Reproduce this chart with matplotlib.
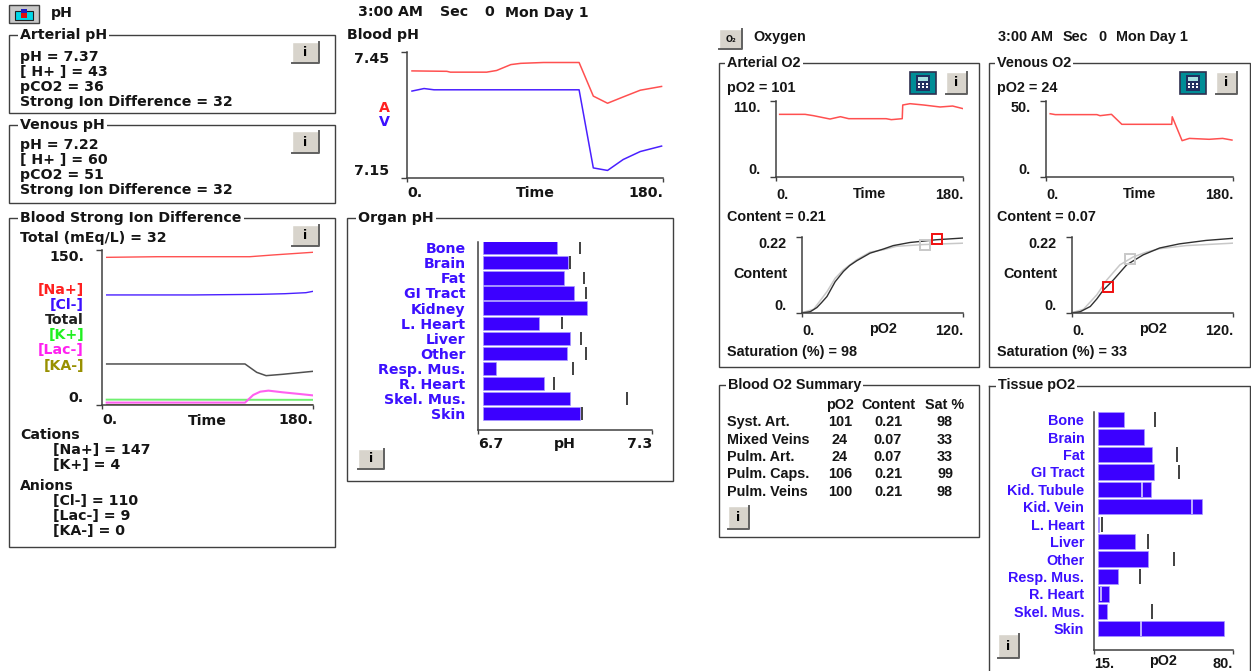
import numpy as np
import matplotlib
matplotlib.use("Agg")
import matplotlib.pyplot as plt
from matplotlib.patches import Rectangle

# ==========================================
# DATA READ FROM THE SCREEN
# ==========================================
ph_art_t = [3.5, 28, 30.5, 56, 63, 73, 80, 96, 121, 131, 141, 152, 164, 179]
ph_art = [7.405, 7.404, 7.402, 7.402, 7.406, 7.42, 7.423, 7.425, 7.425, 7.345, 7.328, 7.343, 7.359, 7.368]
ph_ven_t = [3.5, 12, 19, 121, 131, 141, 152, 164, 179]
ph_ven = [7.357, 7.363, 7.36, 7.36, 7.174, 7.168, 7.194, 7.213, 7.226]

na_t = [4, 47, 126, 146, 180]
na = [142.9, 143.5, 143.5, 145.2, 147.8]
cl_t = [4, 78, 135, 156, 174, 180]
cl = [106.5, 106.5, 107.1, 107.7, 108.7, 110]
total_t = [4, 122, 132, 140, 154, 180]
total = [39.7, 39.7, 31.6, 28.4, 29.7, 32.6]
k_t = [4, 180]
k = [5.2, 5.0]
lac_t = [4, 122, 129, 135, 142, 154, 169, 180]
lac = [2.3, 2.3, 9.7, 12.9, 13.9, 12.3, 10.6, 9.3]
ka_t = [4, 180]
ka = [0.4, 0.4]

organs = ["Bone", "Brain", "Fat", "GI Tract", "Kidney", "L. Heart", "Liver", "Other",
          "Resp. Mus.", "R. Heart", "Skel. Mus.", "Skin"]
organ_ph = [6.974, 7.011, 6.998, 7.03, 7.077, 6.912, 7.016, 7.006, 6.763, 6.926, 7.016, 7.053]
organ_ph_mark = [7.05, 7.018, 7.064, 7.073, np.nan, 6.989, 7.055, 7.073, 7.026, 6.961, 7.214, 7.06]

art_o2_t = [3.5, 28, 36, 52, 62, 70, 106, 111, 121.5, 122, 129, 142, 158, 170, 180]
art_o2 = [90.6, 90.6, 88.7, 83.8, 87.2, 84.3, 84.3, 82.9, 84.3, 104.2, 106.1, 104.2, 101.3, 102.7, 98.9]
ven_o2_t = [4, 9, 49, 52, 63, 73, 121, 121.5, 131, 138, 157, 170, 179]
ven_o2 = [41.6, 41, 41, 40.3, 41.2, 34.6, 34.6, 39.6, 23.8, 25.3, 24.7, 25.3, 24.2]

art_curve_p = [0, 3, 6.2, 11.1, 14.5, 18.6, 24.7, 30.9, 35.5, 40.8, 50.7, 60.6, 68, 80.4, 100, 120]
art_curve_c = [0, .001, .003, .015, .029, .047, .09, .12, .137, .151, .173, .185, .195, .204, .212, .217]
art_ref_p = [0, 8.7, 18.6, 24.7, 30.9, 40.8, 50.7, 60.6, 70.5, 90.3, 120]
art_ref_c = [0, .01, .061, .10, .125, .154, .176, .183, .193, .198, .202]
ven_curve_p = [0, 3, 6.2, 13.6, 18.5, 23.4, 30.8, 40.7, 53, 65.3, 80, 99.8, 119.5]
ven_curve_c = [0, .001, .003, .018, .04, .066, .095, .139, .168, .188, .2, .21, .216]
ven_ref_p = [0, 8.6, 18.5, 25.9, 35.7, 45.6, 55.4, 65.3, 85, 119.5]
ven_ref_c = [0, .01, .052, .095, .139, .162, .176, .186, .195, .202]
art_now = (100.7, 0.215)
art_ref_pt = (91.5, 0.197)
ven_now = (26.6, 0.075)
ven_ref_pt = (43.6, 0.156)

summary_rows = ["Syst. Art.", "Mixed Veins", "Pulm. Art.", "Pulm. Caps.", "Pulm. Veins"]
summary_po2 = ["101", "24", "24", "106", "100"]
summary_content = ["0.21", "0.07", "0.07", "0.21", "0.21"]
summary_sat = ["98", "33", "33", "99", "98"]

tissues = ["Bone", "Brain", "Fat", "GI Tract", "Kid. Tubule", "Kid. Vein", "L. Heart", "Liver", "Other",
           "Resp. Mus.", "R. Heart", "Skel. Mus.", "Skin"]
tissue_po2 = [29.0, 38.2, 42.2, 43.1, 41.6, 65.5, 17.5, 34.1, 40.2, 26.0, 21.8, 20.9, 75.8]
tissue_mark = [43.5, np.nan, 54.0, 54.7, 37.5, 60.6, 18.6, 40.3, 52.6, 36.3, 18.4, 41.9, 37.2]

clock_parts = ["3:00 AM", "Sec", "0", "Mon Day 1"]

# ==========================================
# STYLE
# ==========================================
W, H = 1251, 671
WIDE = "DejaVu Sans"
NARROW = "Liberation Sans"
WIDE_SIZE = 10.2
NARROW_SIZE = 10.4
RED = "#ff5050"
BLUE = "#4a20ff"
BAR = "#3c00ff"
LINK = "#3c10ff"
INK = "#151515"
FRAME = "#404040"

fig = plt.figure(figsize=(W / 100, H / 100), dpi=100, facecolor="white")
bg = fig.add_axes([0, 0, 1, 1])
bg.set_xlim(0, W)
bg.set_ylim(H, 0)
bg.axis("off")


def put(x, y, s, font=WIDE, size=None, color=INK, ha="left", **kw):
    if size is None:
        size = WIDE_SIZE if font == WIDE else NARROW_SIZE
    return bg.text(x, y, s, family=font, fontsize=size, fontweight="bold", color=color,
                   ha=ha, va="center", **kw)


def frame(x0, y0, x1, y1, title, tx, font=WIDE):
    bg.add_patch(Rectangle((x0, y0), x1 - x0, y1 - y0, fc="none", ec=FRAME, lw=1.0))
    put(tx, y0, title, font=font, zorder=5,
        bbox=dict(fc="white", ec="none", pad=1.5))


def button(x0, y0, x1, y1, label="i"):
    bg.add_patch(Rectangle((x0, y0), x1 - x0, y1 - y0, fc="#d8d4cc", ec="none"))
    bg.plot([x0, x0, x1], [y1, y0, y0], color="white", lw=1)
    bg.plot([x0, x1, x1], [y1, y1, y0], color="#606060", lw=1.4)
    if label:
        put((x0 + x1) / 2, (y0 + y1) / 2, label, font=WIDE, size=9, color="black", ha="center")


def calc_icon(x0, y0):
    bg.add_patch(Rectangle((x0, y0), 26, 22, fc="#008c96", ec="#303050", lw=1.2))
    bg.add_patch(Rectangle((x0 + 6, y0 + 3), 14, 16, fc="#203060", ec="none"))
    bg.add_patch(Rectangle((x0 + 8, y0 + 5), 10, 4, fc="#a8e0e0", ec="none"))
    for row in range(2):
        for col in range(3):
            bg.add_patch(Rectangle((x0 + 8 + col * 4, y0 + 11 + row * 3), 2, 2, fc="white", ec="none"))


def chart(x0, y0, x1, y1, xr, yr, xt, yt, xlabel, xlabel_y, font=WIDE, ypad=9, xpad=3):
    ax = fig.add_axes([x0 / W, 1 - y1 / H, (x1 - x0) / W, (y1 - y0) / H])
    ax.set_xlim(*xr)
    ax.set_ylim(*yr)
    ax.patch.set_alpha(0)
    for side in ["top", "right"]:
        ax.spines[side].set_visible(False)
    for side in ["left", "bottom"]:
        ax.spines[side].set_color(FRAME)
        ax.spines[side].set_linewidth(1.1)
    size = WIDE_SIZE if font == WIDE else NARROW_SIZE
    ax.set_xticks(xr)
    ax.set_xticklabels(xt, family=font, fontsize=size, fontweight="bold", color=INK)
    ax.get_xticklabels()[0].set_ha("left")
    ax.get_xticklabels()[1].set_ha("right")
    ax.tick_params(axis="x", length=3, width=1, color=FRAME, pad=xpad)
    if yt is not None:
        ax.set_yticks(yr)
        ax.set_yticklabels(yt, family=font, fontsize=size, fontweight="bold", color=INK)
        ax.get_yticklabels()[0].set_va("bottom")
        ax.get_yticklabels()[1].set_va("top")
        ax.tick_params(axis="y", length=4, width=1, color=FRAME, pad=ypad)
    ax.set_xlabel(xlabel, family=font, fontsize=size, fontweight="bold", color=INK, va="center")
    ax.xaxis.set_label_coords(0.5, -(xlabel_y - y1) / (y1 - y0))
    return ax


def bar_chart(ax, names, vals, marks, base, bar_h, font, pad):
    pos = np.arange(len(names))
    ax.barh(pos, np.array(vals) - base, left=base, height=bar_h, color=BAR,
            edgecolor="#a898ff", linewidth=0.5)
    for i, (v, m) in enumerate(zip(vals, marks)):
        if np.isnan(m):
            continue
        ax.vlines(m, i - 0.42, i + 0.42, color="#d8d0ff" if m < v else "#202020", lw=1.2, zorder=4)
    size = WIDE_SIZE if font == WIDE else NARROW_SIZE
    ax.set_yticks(pos)
    ax.set_yticklabels(names, family=font, fontsize=size, fontweight="bold", color=LINK)
    ax.tick_params(axis="y", length=0, pad=pad)


# ==========================================
# LEFT WINDOW - pH
# ==========================================
bg.add_patch(Rectangle((9, 5), 30, 18, fc="#c8c8c8", ec="#404040", lw=1))
bg.add_patch(Rectangle((15, 11), 18, 9, fc="#00d8e8", ec="#202020", lw=0.8))
bg.add_patch(Rectangle((21, 9), 6, 4, fc="#2020c0", ec="none"))
bg.add_patch(Rectangle((21, 13), 6, 5, fc="#e01010", ec="none"))
put(51, 13, "pH")
for x, s in zip([358, 440, 484, 505], clock_parts):
    put(x, 12.5, s)
put(347, 34.5, "Blood pH")

frame(9, 35, 335, 113, "Arterial pH", 20)
for y, s in zip([57, 72, 87, 102], ["pH = 7.37", "[ H+ ] = 43", "pCO2 = 36", "Strong Ion Difference = 32"]):
    put(20, y, s)
button(292, 42, 319, 63)

frame(9, 125, 335, 203, "Venous pH", 20)
for y, s in zip([145, 160, 175, 190], ["pH = 7.22", "[ H+ ] = 60", "pCO2 = 51", "Strong Ion Difference = 32"]):
    put(20, y, s)
button(292, 131, 319, 153)

frame(9, 218, 335, 547, "Blood Strong Ion Difference", 20)
put(20, 238, "Total (mEq/L) = 32")
button(292, 225, 319, 246)

ax = chart(102, 250, 313, 405, (0, 180), (0, 150), ["0.", "180."], ["0.", "150."], "Time", 421, ypad=9)
ax.plot(na_t, na, color=RED, lw=1)
ax.plot(cl_t, cl, color=BLUE, lw=1)
ax.plot(total_t, total, color="#505050", lw=1.1)
ax.plot(k_t, k, color="#70f070", lw=1.4)
ax.plot(lac_t, lac, color="#ff60f0", lw=1.5)
ax.plot(ka_t, ka, color="#807820", lw=1.2)

sid_names = ["[Na+]", "[Cl-]", "Total", "[K+]", "[Lac-]", "[KA-]"]
sid_colors = ["#ff2020", "#3c10ff", "#202020", "#20f020", "#ff20f0", "#989000"]
for y, s, c in zip([290, 305, 320, 335, 350, 366], sid_names, sid_colors):
    put(84, y, s, color=c, ha="right")

put(20, 435, "Cations")
put(53, 450, "[Na+] = 147")
put(53, 465, "[K+] = 4")
put(20, 486, "Anions")
put(53, 501, "[Cl-] = 110")
put(53, 516, "[Lac-] = 9")
put(53, 531, "[KA-] = 0")

ax = chart(407, 52, 663, 178, (0, 180), (7.15, 7.45), ["0.", "180."], ["7.15", "7.45"], "Time", 193, ypad=9)
ax.plot(ph_art_t, ph_art, color=RED, lw=1.1)
ax.plot(ph_ven_t, ph_ven, color=BLUE, lw=1.1)
put(384, 108, "A", color="#ff2020", ha="center")
put(384, 122, "V", color="#3c10ff", ha="center")

frame(347, 218, 673, 481, "Organ pH", 358)
ax = chart(478, 242, 652, 430, (6.7, 7.3), (12.08, -0.378), ["6.7", "7.3"], None, "pH", 444, xpad=2)
bar_chart(ax, organs, organ_ph, organ_ph_mark, 6.716, 0.88, WIDE, 9)
button(358, 449, 384, 469)

# ==========================================
# RIGHT WINDOW - OXYGEN
# ==========================================
button(719, 29, 742, 49, label="")
put(730.5, 39, "O₂", font=WIDE, size=6, ha="center")
put(753, 37, "Oxygen", font=NARROW)
for x, s in zip([998, 1063, 1098, 1116], clock_parts):
    put(x, 37, s, font=NARROW)

panels = [
    (719, "Arterial O2", "pO2 = 101", "Content = 0.21", "Saturation (%) = 98", (0, 110), ["0.", "110."],
     art_o2_t, art_o2, art_curve_p, art_curve_c, art_ref_p, art_ref_c, art_now, art_ref_pt),
    (989, "Venous O2", "pO2 = 24", "Content = 0.07", "Saturation (%) = 33", (0, 50), ["0.", "50."],
     ven_o2_t, ven_o2, ven_curve_p, ven_curve_c, ven_ref_p, ven_ref_c, ven_now, ven_ref_pt),
]
for x0, title, po2, content, sat, yr, yt, t, v, cp, cc, rp, rc, now, ref in panels:
    x1 = x0 + 260 if x0 == 719 else 1250
    frame(x0, 63, x1, 367, title, x0 + 8, font=NARROW)
    put(x0 + 8, 88, po2, font=NARROW)
    calc_icon(x0 + 191, 72)
    button(x0 + 227, 72, x0 + 248, 94)

    ax = chart(x0 + 57, 101, x0 + 244, 176.7, (0, 180), yr, ["0.", "180."], yt, "Time", 193.5,
               font=NARROW, ypad=7, xpad=5)
    ax.plot(t, v, color=RED, lw=1.1)

    put(x0 + 8, 217, content, font=NARROW)
    ax = chart(x0 + 83, 237, x0 + 244, 312.7, (0, 120), (0, 0.22), ["0.", "120."], ["0.", "0.22"], "pO2", 329,
               font=NARROW, ypad=7, xpad=5)
    ax.plot(rp, rc, color="#c8c8c8", lw=1.1)
    ax.plot(cp, cc, color="#303030", lw=1)
    ax.plot(*ref, marker="s", ms=6.5, mfc="none", mec="#c8c8c8", mew=1.4, clip_on=False)
    ax.plot(*now, marker="s", ms=6.5, mfc="none", mec="#f01010", mew=1.4, clip_on=False)
    put(x0 + 69, 274.5, "Content", font=NARROW, ha="right")
    put(x0 + 8, 352, sat, font=NARROW)

frame(719, 385, 979, 537, "Blood O2 Summary", 728, font=NARROW)
put(840, 405, "pO2", font=NARROW, ha="center")
put(888, 405, "Content", font=NARROW, ha="center")
put(945, 405, "Sat %", font=NARROW, ha="center")
for y, name, a, b, c in zip([422, 440, 457, 474, 492], summary_rows, summary_po2, summary_content, summary_sat):
    put(727, y, name, font=NARROW)
    put(840, y, a, font=NARROW, ha="center")
    put(888, y, b, font=NARROW, ha="center")
    put(945, y, c, font=NARROW, ha="center")
button(728, 506, 749, 529)

# tissue panel runs off the bottom of the window
bg.plot([989, 989], [671, 385.5], color=FRAME, lw=1.0)
bg.plot([989, 1250, 1250], [385.5, 385.5, 671], color=FRAME, lw=1.0)
put(998, 385.5, "Tissue pO2", font=NARROW, zorder=5, bbox=dict(fc="white", ec="none", pad=1.5))
ax = chart(1094, 412, 1233, 650, (15, 80), (13.22, -0.44), ["15.", "80."], None, "pO2", 661, font=NARROW, xpad=2)
bar_chart(ax, tissues, tissue_po2, tissue_mark, 16.9, 0.88, NARROW, 7)
button(998, 634, 1019, 658)

plt.savefig("out.png", dpi=100, facecolor="white")
